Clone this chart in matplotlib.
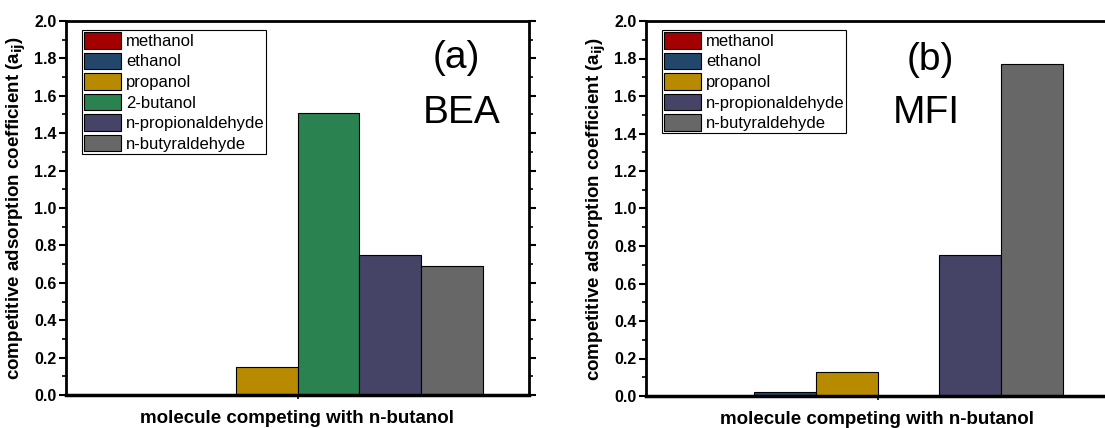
import matplotlib
matplotlib.use("Agg")
import matplotlib.pyplot as plt
from matplotlib.ticker import MultipleLocator

plt.rcParams['font.family'] = ['Liberation Sans', 'DejaVu Sans']

# slots along the x axis (same order in both panels)
molecules = ["methanol", "ethanol", "propanol", "2-butanol",
             "n-propionaldehyde", "n-butyraldehyde"]
colors = ["#A30000", "#23476B", "#B88A00", "#2A8250", "#454466", "#676767"]

# BEA panel values (all six molecules)
bea_vals = [0.0, 0.0, 0.15, 1.51, 0.75, 0.69]
# MFI panel values (no 2-butanol)
mfi_vals = [0.0, 0.02, 0.13, None, 0.75, 1.77]

fig = plt.figure(figsize=(11.05, 4.28), dpi=100)
ax1 = fig.add_axes([66 / 1105, 1 - 395 / 428, 463 / 1105, 374 / 428])
ax2 = fig.add_axes([646 / 1105, 1 - 396 / 428, 463 / 1105, 375 / 428])


def draw_panel(ax, vals, tag, name, tx, ty):
    for i, (m, c, v) in enumerate(zip(molecules, colors, vals)):
        if v is None:
            continue
        ax.bar(i, v, width=1.0, color=c, edgecolor="black", linewidth=0.8, label=m)
    ax.set_xlim(-1.24, 6.24)
    ax.set_ylim(0, 2.0)
    ax.yaxis.set_major_locator(MultipleLocator(0.2))
    ax.yaxis.set_minor_locator(MultipleLocator(0.1))
    ax.set_xticks([2.5])
    ax.set_xticklabels([""])
    ax.tick_params(axis="x", direction="out", length=3, width=1.2)
    ax.tick_params(axis="y", which="major", direction="out", length=5, width=1.5,
                   right=True, labelsize=11.5, pad=2)
    ax.tick_params(axis="y", which="minor", direction="out", length=3, width=1.2, right=True)
    for lab in ax.get_yticklabels():
        lab.set_fontweight("bold")
    for s in ax.spines.values():
        s.set_linewidth(2.0)
    ax.spines["bottom"].set_linewidth(2.5)
    ax.set_ylabel("competitive adsorption coefficient (a$_{\\mathbf{ij}}$)",
                  fontsize=13.5, fontweight="bold", labelpad=4)
    ax.set_xlabel("molecule competing with n-butanol", fontsize=13.5,
                  fontweight="bold", labelpad=4)
    leg = ax.legend(loc="upper left", bbox_to_anchor=(0.035, 0.976), borderaxespad=0,
                    fontsize=12, fancybox=False, edgecolor="black", framealpha=1,
                    handlelength=2.2, handleheight=1.15, labelspacing=0.22,
                    handletextpad=0.3, borderpad=0.12)
    leg.get_frame().set_linewidth(0.8)
    ax.text(tx[0], ty[0], tag, transform=ax.transAxes, fontsize=28, ha="center", va="center")
    ax.text(tx[1], ty[1], name, transform=ax.transAxes, fontsize=28, ha="center", va="center")


draw_panel(ax1, bea_vals, "(a)", "BEA", (0.842, 0.855), (0.9, 0.754))
draw_panel(ax2, mfi_vals, "(b)", "MFI", (0.613, 0.605), (0.895, 0.754))

fig.savefig("out.png", dpi=100)
